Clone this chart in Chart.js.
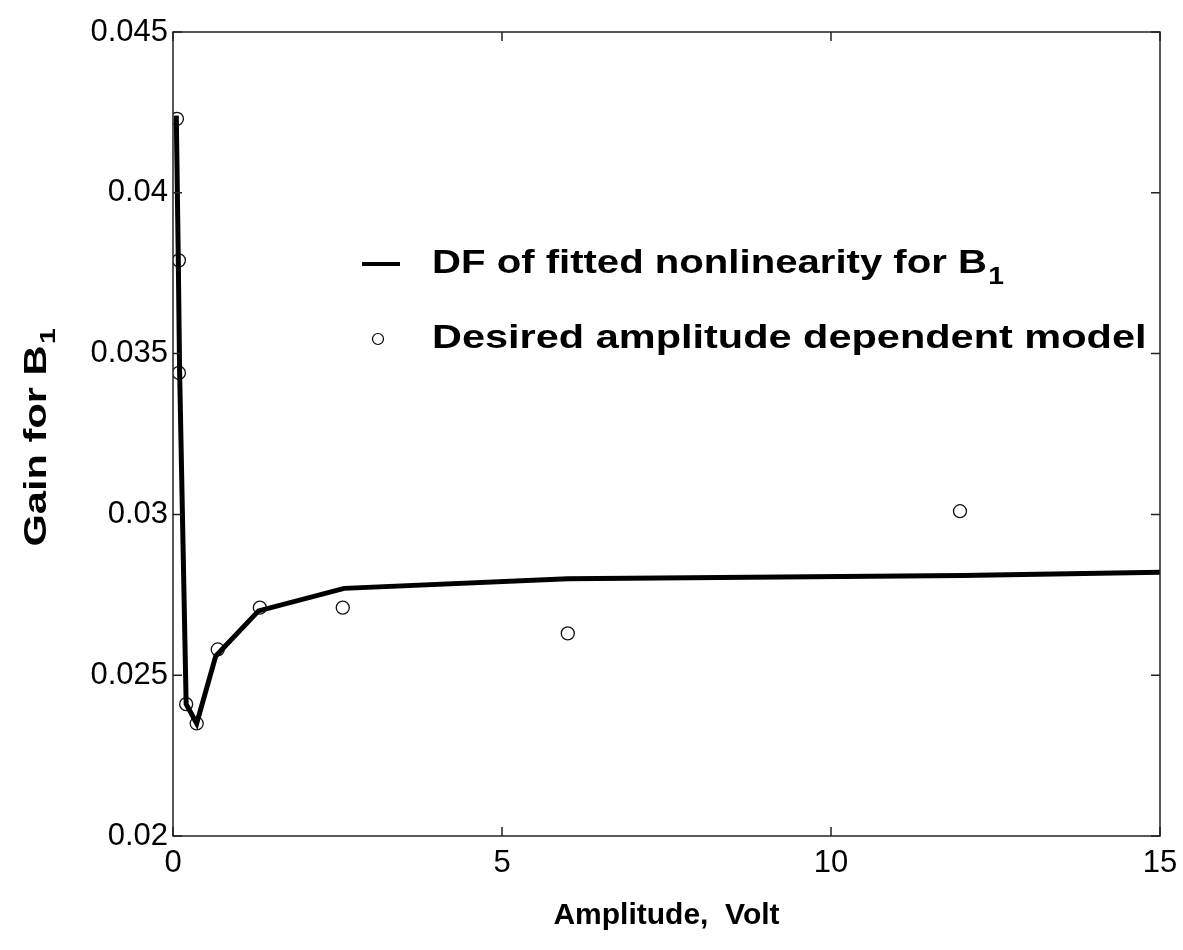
<!DOCTYPE html>
<html>
<head>
<meta charset="utf-8">
<script src="https://cdn.jsdelivr.net/npm/chart.js@4/dist/chart.umd.min.js"></script>
<style>
  html, body { margin: 0; padding: 0; background: #fff; }
  #wrap { width: 1183px; height: 950px; }
</style>
</head>
<body>
<div id="wrap"><canvas id="myChart" width="1183" height="950"></canvas></div>
<script>
// data
const fitX = [0.05, 0.08, 0.1, 0.2, 0.36, 0.65, 1.3, 2.6, 6, 12, 15];
const fitY = [0.0424, 0.038, 0.0345, 0.0241, 0.0235, 0.0256, 0.0270, 0.0277, 0.0280, 0.0281, 0.0282];
const desX = [0.06, 0.09, 0.09, 0.2, 0.36, 0.68, 1.32, 2.58, 6, 11.96];
const desY = [0.0423, 0.0379, 0.0344, 0.0241, 0.0235, 0.0258, 0.0271, 0.0271, 0.0263, 0.0301];
const xTicks = [0, 5, 10, 15];
const yTicks = [0.02, 0.025, 0.03, 0.035, 0.04, 0.045];

const FONT = '"Liberation Sans", Arial, sans-serif';

// text with a subscript tail, stretched along its reading direction
function drawSub(ctx, main, sub, x, y, size, align, stretch) {
  ctx.save();
  ctx.translate(x, y);
  ctx.scale(stretch, 1);
  ctx.font = 'bold ' + size + 'px ' + FONT;
  const w1 = ctx.measureText(main).width;
  const subSize = Math.round(size * 0.7);
  ctx.font = 'bold ' + subSize + 'px ' + FONT;
  const w2 = sub ? ctx.measureText(sub).width : 0;
  let start = 0;
  if (align === 'center') start = -(w1 + w2) / 2;
  ctx.textAlign = 'left';
  ctx.textBaseline = 'middle';
  ctx.font = 'bold ' + size + 'px ' + FONT;
  ctx.fillText(main, start, 0);
  if (sub) {
    ctx.font = 'bold ' + subSize + 'px ' + FONT;
    ctx.fillText(sub, start + w1 + 1, size * 0.38);
  }
  ctx.restore();
}

// box, inward ticks, titles and legend
const framePlugin = {
  id: 'frame',
  afterDraw(chart) {
    const ctx = chart.ctx;
    const a = chart.chartArea;
    const xs = chart.scales.x, ys = chart.scales.y;
    ctx.save();
    ctx.strokeStyle = '#222';
    ctx.lineWidth = 1.5;
    ctx.strokeRect(a.left, a.top, a.right - a.left, a.bottom - a.top);
    ctx.beginPath();
    xTicks.forEach(v => {
      const px = xs.getPixelForValue(v);
      ctx.moveTo(px, a.bottom); ctx.lineTo(px, a.bottom - 9);
      ctx.moveTo(px, a.top); ctx.lineTo(px, a.top + 9);
    });
    yTicks.forEach(v => {
      const py = ys.getPixelForValue(v);
      ctx.moveTo(a.left, py); ctx.lineTo(a.left + 9, py);
      ctx.moveTo(a.right, py); ctx.lineTo(a.right - 9, py);
    });
    ctx.stroke();

    ctx.fillStyle = '#000';
    // x title
    drawSub(ctx, 'Amplitude,  Volt', '', (a.left + a.right) / 2, 916, 30, 'center', 1);
    // y title
    ctx.save();
    ctx.translate(37, 438);
    ctx.rotate(-Math.PI / 2);
    drawSub(ctx, 'Gain for B', '1', 0, 0, 32, 'center', 1.3);
    ctx.restore();

    // legend
    const ds = chart.data.datasets;
    ctx.strokeStyle = '#000';
    ctx.lineWidth = 4;
    ctx.beginPath();
    ctx.moveTo(362, 264); ctx.lineTo(400, 264);
    ctx.stroke();
    drawSub(ctx, ds[0].label, '1', 432, 264, 34, 'left', 1.18);
    ctx.lineWidth = 1.2;
    ctx.beginPath();
    ctx.arc(378, 339, 5.5, 0, Math.PI * 2);
    ctx.stroke();
    drawSub(ctx, ds[1].label, '', 432, 339, 34, 'left', 1.22);
    ctx.restore();
  }
};

const ctx = document.getElementById('myChart').getContext('2d');
new Chart(ctx, {
  type: 'scatter',
  data: {
    datasets: [
      {
        label: 'DF of fitted nonlinearity for B',
        data: fitX.map((x, i) => ({ x: x, y: fitY[i] })),
        showLine: true,
        borderColor: '#000',
        borderWidth: 5,
        pointRadius: 0,
        tension: 0
      },
      {
        label: 'Desired amplitude dependent model',
        data: desX.map((x, i) => ({ x: x, y: desY[i] })),
        showLine: false,
        pointStyle: 'circle',
        pointRadius: 6.5,
        borderColor: '#111',
        borderWidth: 1.3,
        backgroundColor: 'rgba(0,0,0,0)'
      }
    ]
  },
  options: {
    responsive: false,
    animation: false,
    layout: { padding: { top: 32, right: 23, left: 0, bottom: 0 } },
    plugins: { legend: { display: false }, tooltip: { enabled: false } },
    scales: {
      x: {
        type: 'linear',
        min: 0, max: 15,
        afterBuildTicks: s => { s.ticks = xTicks.map(v => ({ value: v })); },
        afterFit: s => { s.height = 950 - 32 - 804; },
        grid: { display: false },
        border: { display: false },
        ticks: { color: '#000', font: { family: FONT, size: 31 }, padding: 1, maxRotation: 0 }
      },
      y: {
        min: 0.02, max: 0.045,
        afterBuildTicks: s => { s.ticks = yTicks.map(v => ({ value: v })); },
        afterFit: s => { s.width = 173; },
        grid: { display: false },
        border: { display: false },
        ticks: {
          color: '#000', font: { family: FONT, size: 31 }, padding: -3,
          callback: v => String(+v.toFixed(3))
        }
      }
    }
  },
  plugins: [framePlugin]
});
</script>
</body>
</html>
